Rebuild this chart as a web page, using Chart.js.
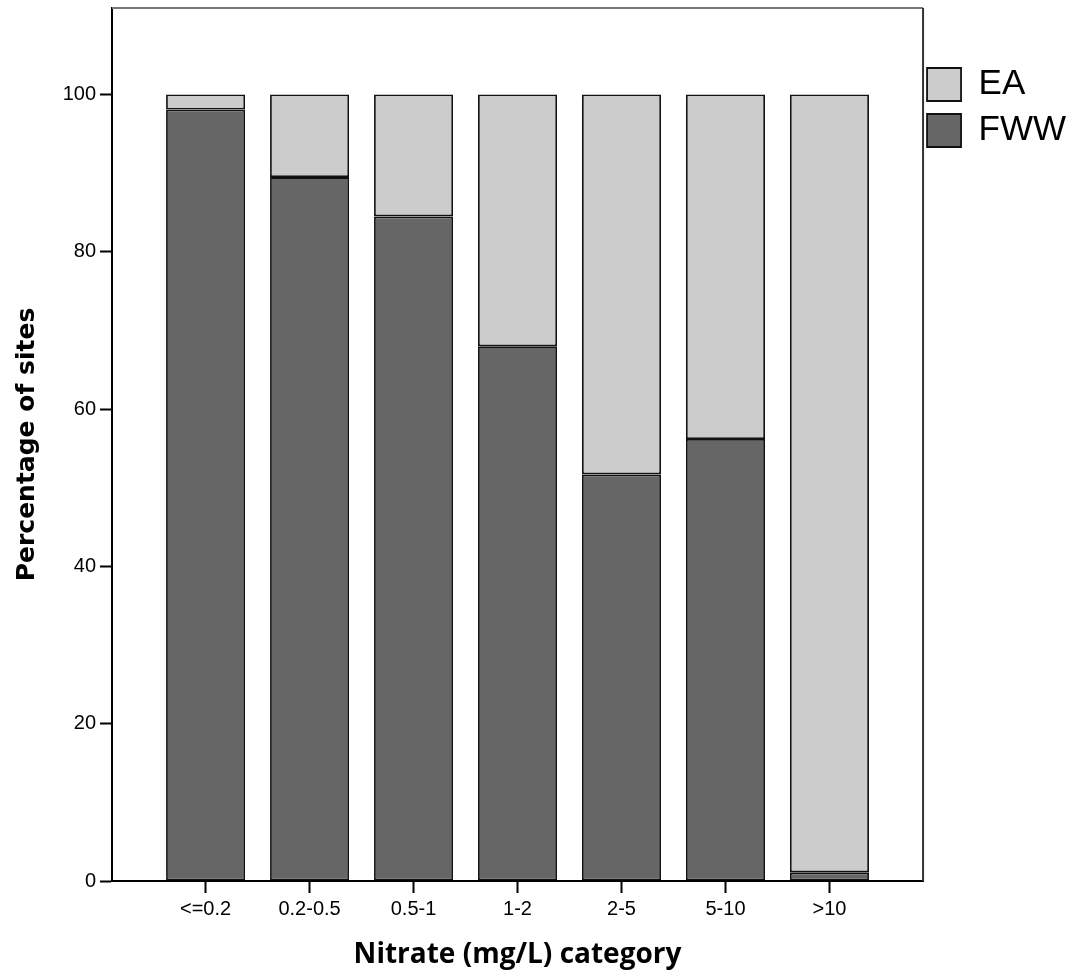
<!DOCTYPE html>
<html>
<head>
<meta charset="utf-8">
<script src="https://cdn.jsdelivr.net/npm/chart.js@4"></script>
<style>
  html, body { margin: 0; padding: 0; background: #ffffff; }
  #wrap { width: 1081px; height: 974px; }
</style>
</head>
<body>
<div id="wrap"><canvas id="c" width="1081" height="974"></canvas></div>
<script>
// ---- data ----
const categories = ['<=0.2', '0.2-0.5', '0.5-1', '1-2', '2-5', '5-10', '>10'];
const fwwValues  = [98.1, 89.5, 84.5, 68.0, 51.7, 56.2, 1.1];
const eaValues   = [1.9, 10.5, 15.5, 32.0, 48.3, 43.8, 98.9];
const yTickValues = [0, 20, 40, 60, 80, 100];
const seriesNames = ['FWW', 'EA'];

// ---- styling constants ----
const EA_COLOR = '#cccccc';
const FWW_COLOR = '#666666';
const LEGEND_SHIFT_X = -7;
const LEGEND_SHIFT_Y = 48;

const framePlugin = {
  id: 'frame',
  afterLayout(chart) {
    const lg = chart.legend;
    if (lg) {
      lg.left += LEGEND_SHIFT_X; lg.right += LEGEND_SHIFT_X;
      lg.top += LEGEND_SHIFT_Y; lg.bottom += LEGEND_SHIFT_Y;
    }
  },
  afterDraw(chart) {
    const a = chart.chartArea, ctx = chart.ctx;
    ctx.save();
    ctx.lineWidth = 2;
    ctx.strokeStyle = '#777777';
    ctx.beginPath(); ctx.moveTo(a.left, a.top); ctx.lineTo(a.right, a.top); ctx.stroke();
    ctx.strokeStyle = '#333333';
    ctx.beginPath(); ctx.moveTo(a.right, a.top); ctx.lineTo(a.right, a.bottom); ctx.stroke();
    ctx.restore();
  }
};

const tickFont = { family: "'Liberation Sans', Arial, sans-serif", size: 20 };

new Chart(document.getElementById('c'), {
  type: 'bar',
  data: {
    datasets: [
      {
        label: seriesNames[0],
        data: fwwValues.map((v, i) => ({ x: i, y: v })),
        backgroundColor: FWW_COLOR,
        borderColor: '#111111',
        borderWidth: 1.8,
        borderSkipped: false,
        barPercentage: 0.76,
        categoryPercentage: 1
      },
      {
        label: seriesNames[1],
        data: eaValues.map((v, i) => ({ x: i, y: v })),
        backgroundColor: EA_COLOR,
        borderColor: '#111111',
        borderWidth: 1.8,
        borderSkipped: false,
        barPercentage: 0.76,
        categoryPercentage: 1
      }
    ]
  },
  options: {
    responsive: false,
    animation: false,
    layout: { padding: { top: 8, right: -2, left: 0, bottom: 0 } },
    plugins: {
      tooltip: { enabled: false },
      legend: {
        position: 'right',
        align: 'start',
        reverse: true,
        labels: {
          boxWidth: 34,
          boxHeight: 33,
          padding: 11,
          color: '#000000',
          font: { family: "'Liberation Sans', Arial, sans-serif", size: 35 }
        }
      }
    },
    scales: {
      x: {
        type: 'linear',
        stacked: true,
        offset: false,
        min: -0.9,
        max: 6.9,
        afterBuildTicks(scale) {
          scale.ticks = categories.map((c, i) => ({ value: i }));
        },
        afterFit(scale) {
          scale.height = 93;
          scale.paddingLeft = 0; scale.paddingRight = 0;
        },
        ticks: {
          autoSkip: false,
          maxRotation: 0,
          padding: 4,
          color: '#000000',
          font: tickFont,
          callback: (v) => categories[v] ?? ''
        },
        grid: {
          offset: false,
          drawOnChartArea: false,
          drawTicks: true,
          tickLength: 12,
          tickColor: '#000000',
          tickWidth: 2
        },
        border: { display: true, color: '#000000', width: 2 },
        title: {
          display: true,
          text: 'Nitrate (mg/L) category',
          color: '#000000',
          font: { family: "'Open Sans', sans-serif", size: 28, weight: 'bold' },
          padding: { top: 0, bottom: 2 }
        }
      },
      y: {
        stacked: true,
        min: 0,
        max: 111,
        afterBuildTicks(scale) {
          scale.ticks = yTickValues.map(v => ({ value: v }));
        },
        afterFit(scale) {
          scale.width = 112;
          scale.paddingTop = 0; scale.paddingBottom = 0;
        },
        ticks: {
          padding: 4,
          color: '#000000',
          font: tickFont
        },
        grid: {
          drawOnChartArea: false,
          drawTicks: true,
          tickLength: 12,
          tickColor: '#000000',
          tickWidth: 2
        },
        border: { display: true, color: '#000000', width: 2 },
        title: {
          display: true,
          text: 'Percentage of sites',
          color: '#000000',
          font: { family: "'DejaVu Sans', sans-serif", size: 25, weight: 'bold' },
          padding: { top: 12, bottom: 0 }
        }
      }
    }
  },
  plugins: [framePlugin]
});
</script>
</body>
</html>
